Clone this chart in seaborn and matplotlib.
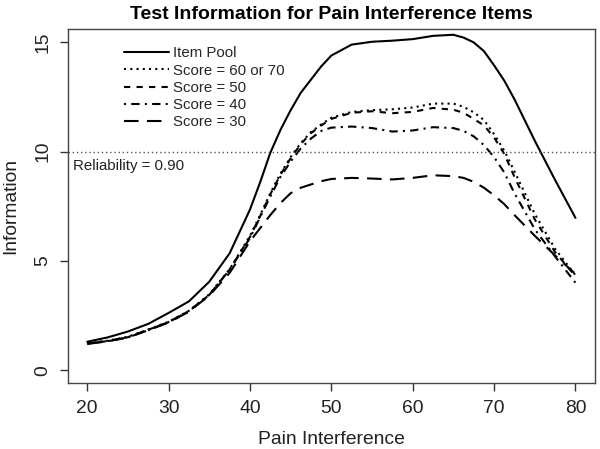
import matplotlib
matplotlib.use("Agg")
import matplotlib.pyplot as plt
import seaborn as sns
import pandas as pd
from matplotlib.lines import Line2D

theta = [20, 22.5, 25, 27.5, 30, 32.5, 35, 37.5, 40, 41.25, 42.5, 43.75, 45, 46.25,
         47.5, 48.75, 50, 52.5, 55, 57.5, 60, 62.5, 65, 66.25, 67.5, 68.75, 70, 71.25,
         72.5, 75, 77.5, 80]

item_pool = [1.3, 1.5, 1.77, 2.12, 2.62, 3.15, 4.05, 5.35, 7.35, 8.6, 9.95, 11.0, 11.9, 12.7,
             13.3, 13.9, 14.4, 14.9, 15.03, 15.08, 15.15, 15.3, 15.35, 15.22, 15.0, 14.6, 13.95, 13.25,
             12.4, 10.5, 8.7, 6.97]
score_60_70 = [1.24, 1.35, 1.53, 1.86, 2.22, 2.72, 3.47, 4.62, 6.15, 7.1, 8.1, 9.0, 9.75, 10.4,
               10.9, 11.25, 11.55, 11.82, 11.9, 11.94, 12.02, 12.2, 12.2, 12.05, 11.8, 11.45, 10.8, 10.05,
               9.1, 7.15, 5.55, 4.35]
score_50 = [1.22, 1.33, 1.51, 1.85, 2.2, 2.7, 3.45, 4.6, 6.1, 7.05, 8.05, 8.95, 9.7, 10.35,
            10.85, 11.2, 11.5, 11.78, 11.85, 11.76, 11.82, 12.0, 11.92, 11.78, 11.5, 11.2, 10.65, 9.9,
            8.85, 6.9, 5.4, 4.3]
score_40 = [1.22, 1.33, 1.5, 1.84, 2.2, 2.7, 3.45, 4.6, 6.05, 7.0, 7.95, 8.85, 9.55, 10.15,
            10.6, 10.95, 11.1, 11.15, 11.08, 10.92, 10.97, 11.12, 11.08, 10.95, 10.7, 10.3, 9.75, 9.05,
            8.1, 6.45, 5.2, 4.0]
score_30 = [1.2, 1.32, 1.5, 1.83, 2.18, 2.68, 3.42, 4.45, 5.9, 6.5, 7.1, 7.65, 8.1, 8.35,
            8.5, 8.65, 8.75, 8.8, 8.77, 8.73, 8.8, 8.92, 8.88, 8.8, 8.62, 8.35, 8.0, 7.6,
            7.1, 6.15, 5.25, 4.4]

series_names = ["Item Pool", "Score = 60 or 70", "Score = 50", "Score = 40", "Score = 30"]
series_values = [item_pool, score_60_70, score_50, score_40, score_30]

x_ticks = [20, 30, 40, 50, 60, 70, 80]
y_ticks = [0, 5, 10, 15]
reliability_info = 10

sns.set_theme(style="white")
plt.rcParams["font.family"] = ["Liberation Sans", "DejaVu Sans"]

df = pd.concat([pd.DataFrame({"theta": theta, "info": v, "series": n})
                for n, v in zip(series_names, series_values)], ignore_index=True)

dash_map = {
    "Item Pool": "",
    "Score = 60 or 70": (1, 2),
    "Score = 50": (3, 3),
    "Score = 40": (1, 2.5, 4, 2.5),
    "Score = 30": (7, 4),
}

fig = plt.figure(figsize=(6.0, 4.49), dpi=100)
ax = fig.add_axes([67.7 / 600, 1 - 383.3 / 449, (595 - 67.7) / 600, (383.3 - 29.3) / 449])

sns.lineplot(data=df, x="theta", y="info", style="series", dashes=dash_map,
             color="black", linewidth=1.5, ax=ax, legend=False, sort=False)

ax.axhline(reliability_info, color="#555555", linestyle=(0, (1, 2)), linewidth=1.0)
ax.text(18.2, 9.35, "Reliability = 0.90", ha="left", va="center", fontsize=10.8, color="#222222")

handles = []
for n in series_names:
    d = dash_map[n]
    if d == "":
        h = Line2D([], [], color="black", linewidth=1.5, linestyle="-")
    else:
        h = Line2D([], [], color="black", linewidth=1.5, linestyle=(0, d))
    handles.append(h)
ax.legend(handles, series_names, loc="upper left", bbox_to_anchor=(0.095, 0.969),
          frameon=False, fontsize=10.8, handlelength=3.0, handletextpad=0.3,
          labelspacing=0.22, borderaxespad=0)

ax.set_xlim(17.6, 82.4)
ax.set_ylim(-0.6, 15.6)
ax.set_xticks(x_ticks)
ax.set_yticks(y_ticks)
ax.set_yticklabels([str(t) for t in y_ticks], rotation=90, va="center")
ax.tick_params(axis="both", direction="out", length=8.3 * 0.72, width=1.0, color="#333333",
               labelsize=13.9, pad=6, bottom=True, left=True, labelcolor="#222222")
for s in ax.spines.values():
    s.set_color("#444444")
    s.set_linewidth(1.0)

ax.set_xlabel("Pain Interference", fontsize=13.9, labelpad=10, color="#222222")
ax.set_ylabel("Information", fontsize=13.9, labelpad=11, color="#222222")
ax.set_title("Test Information for Pain Interference Items", fontsize=14, fontweight="bold",
             pad=7.5, color="black")

fig.savefig("out.png", dpi=100)
